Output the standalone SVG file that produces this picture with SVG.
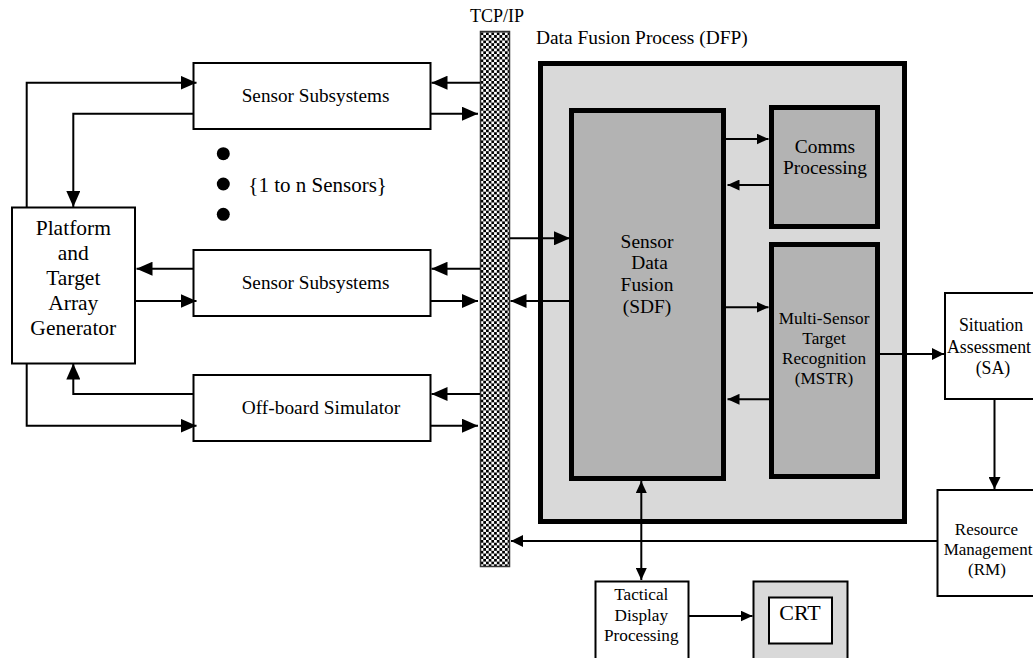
<svg xmlns="http://www.w3.org/2000/svg" width="1033" height="658" viewBox="0 0 1033 658">
<style>
text{font-family:"Liberation Serif","Times New Roman",serif;fill:#000}
.c{text-anchor:middle}
.thin{fill:#fff;stroke:#000;stroke-width:2}
.thick{fill:#b3b3b3;stroke:#000;stroke-width:5}
.ln{fill:none;stroke:#000;stroke-width:2}
.big{marker-end:url(#big)}
.med{marker-end:url(#med)}
.sm{marker-end:url(#sm)}
</style>
<defs>
<pattern id="checker" x="0" y="0" width="5.4" height="5.4" patternUnits="userSpaceOnUse">
<rect width="5.4" height="5.4" fill="#fff"/>
<rect width="2.7" height="2.7" fill="#000"/>
<rect x="2.7" y="2.7" width="2.7" height="2.7" fill="#000"/>
</pattern>
<marker id="big" markerUnits="userSpaceOnUse" markerWidth="16" markerHeight="14" refX="16" refY="7" orient="auto"><path d="M0,0 L16,7 L0,14 z" fill="#000"/></marker>
<marker id="med" markerUnits="userSpaceOnUse" markerWidth="12" markerHeight="12" refX="12" refY="6" orient="auto"><path d="M0,0 L12,6 L0,12 z" fill="#000"/></marker>
<marker id="sm" markerUnits="userSpaceOnUse" markerWidth="12" markerHeight="11" refX="12" refY="5.5" orient="auto-start-reverse"><path d="M0,0 L12,5.5 L0,11 z" fill="#000"/></marker>
</defs>

<g id="tcpip">
<rect x="480.5" y="31.5" width="29" height="535" fill="url(#checker)" stroke="#333" stroke-width="1.5"/>
<text x="470" y="21.7" font-size="18">TCP/IP</text>
</g>

<g id="dfp">
<rect x="540.5" y="63.5" width="364" height="458" fill="#d9d9d9" stroke="#000" stroke-width="5"/>
<text transform="translate(536 44) scale(1.0778)" x="0" y="0" font-size="18">Data Fusion Process (DFP)</text>
</g>

<g id="sdf">
<rect class="thick" x="571.5" y="110.5" width="152" height="368"/>
<text class="c" transform="translate(647 247.5) scale(1.0778)" font-size="18"><tspan x="0" y="0">Sensor</tspan><tspan x="2.3" y="20.41">Data</tspan><tspan x="0" y="40.82">Fusion</tspan><tspan x="0" y="61.23">(SDF)</tspan></text>
</g>

<g id="comms">
<rect class="thick" x="771.5" y="107.5" width="106" height="119"/>
<text class="c" transform="translate(825 152.7) scale(1.0778)" font-size="18"><tspan x="0" y="0">Comms</tspan><tspan x="0" y="19.76">Processing</tspan></text>
</g>

<g id="mstr">
<rect class="thick" x="771.5" y="244.5" width="106" height="232"/>
<text class="c" font-size="17.2"><tspan x="824" y="324">Multi-Sensor</tspan><tspan x="824" y="344">Target</tspan><tspan x="824" y="364">Recognition</tspan><tspan x="824" y="384">(MSTR)</tspan></text>
</g>

<g id="ss1">
<rect class="thin" x="193.5" y="63" width="237" height="66"/>
<text transform="translate(241.7 101.7) scale(1.0667)" x="0" y="0" font-size="18">Sensor Subsystems</text>
</g>

<g id="sensors-note">
<circle cx="223.3" cy="153.7" r="6.5" fill="#000"/>
<circle cx="223.3" cy="184" r="6.5" fill="#000"/>
<circle cx="223.3" cy="214.3" r="6.5" fill="#000"/>
<text transform="translate(248.3 191.7) scale(1.16667)" x="0" y="0" font-size="18">{1 to n Sensors}</text>
</g>

<g id="ss2">
<rect class="thin" x="193.5" y="250" width="237" height="66"/>
<text transform="translate(241.7 289.3) scale(1.0667)" x="0" y="0" font-size="18">Sensor Subsystems</text>
</g>

<g id="obs">
<rect class="thin" x="193.5" y="375" width="237" height="66"/>
<text transform="translate(241.7 414) scale(1.0778)" x="0" y="0" font-size="18">Off-board Simulator</text>
</g>

<g id="platform">
<rect class="thin" x="12" y="207.5" width="123" height="156"/>
<text class="c" transform="translate(73.3 235) scale(1.19444)" font-size="18"><tspan x="0" y="0">Platform</tspan><tspan x="0" y="20.93">and</tspan><tspan x="0" y="41.86">Target</tspan><tspan x="0" y="62.79">Array</tspan><tspan x="0" y="83.72">Generator</tspan></text>
</g>

<g id="sa">
<rect class="thin" x="945" y="293" width="100" height="106"/>
<text class="c" font-size="17.8"><tspan x="991" y="330.7">Situation</tspan><tspan x="989" y="353.3">Assessment</tspan><tspan x="993" y="374">(SA)</tspan></text>
</g>

<g id="rm">
<rect class="thin" x="937.5" y="490" width="110" height="106"/>
<text class="c" font-size="17"><tspan x="986.5" y="535">Resource</tspan><tspan x="988" y="555">Management</tspan><tspan x="987" y="575">(RM)</tspan></text>
</g>

<g id="tactical">
<rect class="thin" x="595.5" y="581.5" width="93" height="90"/>
<text class="c" font-size="17.2"><tspan x="641.3" y="600">Tactical</tspan><tspan x="641.3" y="620.7">Display</tspan><tspan x="641.3" y="641">Processing</tspan></text>
</g>

<g id="crt">
<rect x="753.5" y="581.5" width="94" height="90" fill="#d9d9d9" stroke="#000" stroke-width="2"/>
<rect x="769" y="597.5" width="63" height="46" fill="#fff" stroke="#000" stroke-width="2"/>
<text class="c" transform="translate(800 620) scale(1.2222)" x="0" y="0" font-size="18">CRT</text>
</g>

<g id="connectors">
<path class="ln big" d="M480,82.7 H431.5"/>
<path class="ln big" d="M431,113.7 H478"/>
<path class="ln big" d="M26.7,207 V82.7 H196.5"/>
<path class="ln big" d="M193,113.7 H73.3 V207"/>
<path class="ln big" d="M193,268.7 H136.5"/>
<path class="ln big" d="M135,301 H196.5"/>
<path class="ln big" d="M480,268.7 H431.5"/>
<path class="ln big" d="M431,301 H478"/>
<path class="ln big" d="M193,394 H73.3 V363.5"/>
<path class="ln big" d="M26.7,363.5 V425.7 H196.5"/>
<path class="ln big" d="M480,394 H431.5"/>
<path class="ln big" d="M431,425.7 H478"/>
<path class="ln big" d="M510,238.3 H570"/>
<path class="ln big" d="M569,301 H510.5"/>
<path class="ln sm" d="M726,139 H768.5"/>
<path class="ln sm" d="M769,185 H727.5"/>
<path class="ln sm" d="M726,307.3 H768.5"/>
<path class="ln sm" d="M769,399.3 H727.5"/>
<path class="ln med" d="M880,354 H944"/>
<path class="ln med" d="M994.5,399 V489"/>
<path class="ln med" d="M937,541 H511"/>
<path class="ln sm" d="M641.3,481 V580" marker-start="url(#sm)"/>
<path class="ln sm" d="M689,616 H752.5"/>
</g>
</svg>
